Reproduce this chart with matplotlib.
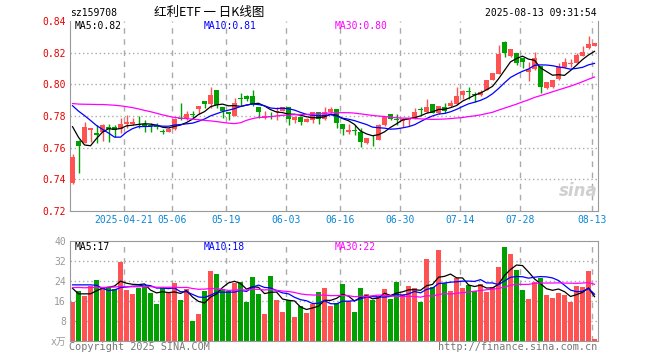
import pandas as pd
import matplotlib
matplotlib.use('Agg')
import matplotlib.pyplot as plt

# closes / volumes of the 29 sessions before the window (only feed the MA lines)
pre_close = [0.772, 0.776, 0.774, 0.771, 0.775, 0.778, 0.779,
             0.786, 0.792, 0.795, 0.799, 0.801, 0.798, 0.803, 0.800, 0.798, 0.801,
             0.790, 0.792, 0.791, 0.796, 0.801, 0.803, 0.800, 0.799,
             0.795, 0.797, 0.775, 0.745]
pre_vol = [18, 22, 19, 24, 21, 17, 20, 23, 25, 19, 22, 18, 20, 24, 21, 19, 23, 20, 18, 22,
           20, 18, 22, 26, 33, 31, 18, 22, 18.3]

open_ = [0.7375, 0.7642, 0.7632, 0.7712, 0.7695, 0.7697, 0.7729, 0.7733, 0.7718, 0.7750,
         0.7752, 0.7750, 0.7748, 0.7740, 0.7736, 0.7703, 0.7699, 0.7715, 0.7786, 0.7786,
         0.7812, 0.7845, 0.7895, 0.7876, 0.7965, 0.7855, 0.7824, 0.7800, 0.7914, 0.7927,
         0.7927, 0.7859, 0.7786, 0.7798, 0.7824, 0.7832, 0.7857, 0.7775, 0.7796, 0.7765,
         0.7775, 0.7824, 0.7780, 0.7828, 0.7843, 0.7748, 0.7701, 0.7708, 0.7701, 0.7628,
         0.7660, 0.7649, 0.7744, 0.7813, 0.7778, 0.7768, 0.7772, 0.7786, 0.7840, 0.7828,
         0.7876, 0.7817, 0.7855, 0.7864, 0.7876, 0.7933, 0.7958, 0.7935, 0.7933, 0.7965,
         0.8028, 0.8066, 0.8270, 0.8180, 0.8201, 0.8169, 0.8080, 0.8096, 0.8116, 0.7975,
         0.7982, 0.8032, 0.8108, 0.8131, 0.8133, 0.8180, 0.8228, 0.8243]
high = [0.7560, 0.7647, 0.7761, 0.7726, 0.7744, 0.7748, 0.7750, 0.7746, 0.7786, 0.7807,
        0.7786, 0.7797, 0.7775, 0.7755, 0.7755, 0.7716, 0.7727, 0.7786, 0.7880, 0.7832,
        0.7832, 0.7864, 0.7897, 0.7982, 0.7965, 0.7855, 0.7828, 0.7912, 0.7944, 0.7933,
        0.7965, 0.7859, 0.7832, 0.7828, 0.7855, 0.7857, 0.7857, 0.7803, 0.7803, 0.7786,
        0.7824, 0.7828, 0.7859, 0.7859, 0.7843, 0.7748, 0.7748, 0.7744, 0.7722, 0.7663,
        0.7680, 0.7752, 0.7796, 0.7813, 0.7811, 0.7786, 0.7790, 0.7849, 0.7859, 0.7906,
        0.7876, 0.7866, 0.7885, 0.7901, 0.7980, 0.7964, 0.7980, 0.7954, 0.7964, 0.8028,
        0.8070, 0.8249, 0.8272, 0.8224, 0.8201, 0.8169, 0.8144, 0.8207, 0.8116, 0.8017,
        0.8030, 0.8137, 0.8165, 0.8160, 0.8201, 0.8239, 0.8306, 0.8262]
low = [0.7370, 0.7438, 0.7628, 0.7638, 0.7628, 0.7644, 0.7638, 0.7670, 0.7690, 0.7727,
       0.7744, 0.7723, 0.7702, 0.7698, 0.7716, 0.7686, 0.7697, 0.7710, 0.7775, 0.7775,
       0.7790, 0.7811, 0.7849, 0.7849, 0.7849, 0.7790, 0.7775, 0.7800, 0.7870, 0.7895,
       0.7866, 0.7786, 0.7783, 0.7781, 0.7775, 0.7830, 0.7746, 0.7754, 0.7744, 0.7759,
       0.7754, 0.7748, 0.7775, 0.7821, 0.7722, 0.7680, 0.7686, 0.7680, 0.7607, 0.7625,
       0.7613, 0.7649, 0.7737, 0.7775, 0.7740, 0.7729, 0.7737, 0.7779, 0.7807, 0.7817,
       0.7817, 0.7813, 0.7821, 0.7859, 0.7870, 0.7906, 0.7906, 0.7891, 0.7927, 0.7963,
       0.8025, 0.8066, 0.8172, 0.8174, 0.8123, 0.8102, 0.8024, 0.8092, 0.7944, 0.7969,
       0.7977, 0.8030, 0.8102, 0.8112, 0.8133, 0.8178, 0.8222, 0.8241]
close = [0.7543, 0.7613, 0.7730, 0.7724, 0.7680, 0.7744, 0.7720, 0.7712, 0.7748, 0.7765,
         0.7765, 0.7744, 0.7733, 0.7737, 0.7733, 0.7699, 0.7720, 0.7783, 0.7780, 0.7811,
         0.7808, 0.7864, 0.7876, 0.7933, 0.7870, 0.7832, 0.7811, 0.7881, 0.7910, 0.7908,
         0.7874, 0.7828, 0.7797, 0.7795, 0.7832, 0.7855, 0.7778, 0.7796, 0.7765, 0.7782,
         0.7824, 0.7780, 0.7824, 0.7845, 0.7754, 0.7716, 0.7712, 0.7706, 0.7638, 0.7663,
         0.7658, 0.7744, 0.7796, 0.7780, 0.7776, 0.7778, 0.7786, 0.7828, 0.7836, 0.7859,
         0.7821, 0.7863, 0.7834, 0.7885, 0.7927, 0.7960, 0.7954, 0.7931, 0.7954, 0.8028,
         0.8070, 0.8190, 0.8200, 0.8222, 0.8133, 0.8144, 0.8096, 0.8165, 0.7982, 0.8017,
         0.8028, 0.8112, 0.8144, 0.8135, 0.8186, 0.8207, 0.8255, 0.8258]
volume = [15.7, 20.0, 18.0, 22.0, 24.4, 21.0, 21.7, 20.6, 31.7, 20.3,
          18.8, 21.1, 22.0, 19.3, 14.7, 21.1, 19.4, 23.3, 16.3, 20.6,
          8.0, 10.7, 20.1, 28.1, 26.9, 20.9, 20.0, 23.3, 23.6, 15.7,
          25.6, 18.9, 10.7, 26.1, 16.3, 11.6, 16.3, 9.4, 14.0, 11.3,
          14.7, 19.7, 21.3, 13.9, 15.3, 22.8, 16.1, 11.5, 21.2, 18.8,
          16.3, 18.0, 20.9, 16.7, 23.6, 18.8, 22.0, 21.2, 15.5, 32.8,
          21.4, 36.4, 23.0, 20.1, 25.2, 21.2, 22.4, 19.8, 22.8, 19.5,
          21.4, 29.6, 37.6, 34.8, 28.4, 20.3, 16.7, 23.7, 25.3, 18.3,
          17.1, 19.3, 18.3, 15.7, 22.0, 21.7, 28.1, 0.8]

holidays = ['2025-05-01', '2025-05-02', '2025-05-05', '2025-06-02']
tick_dates = ['2025-04-21', '2025-05-06', '2025-05-19', '2025-06-03', '2025-06-16',
              '2025-06-30', '2025-07-14', '2025-07-28', '2025-08-13']
price_ticks = [0.72, 0.74, 0.76, 0.78, 0.80, 0.82, 0.84]
vol_ticks = [0, 8, 16, 24, 32, 40]

RED = '#ff5252'
GREEN = '#00a000'
MA_COLORS = {5: 'black', 10: '#0000ff', 30: '#ff00ff'}
GRID = '#aaaaaa'
MONO = ['DejaVu Sans Mono', 'Noto Sans CJK SC']

dates = pd.bdate_range('2025-04-08', '2025-08-13')
dates = dates[~dates.isin(pd.to_datetime(holidays))]
x = list(range(len(dates)))
tick_pos = [dates.get_loc(pd.Timestamp(d)) - 0.4 for d in tick_dates]
tick_lab = [tick_dates[0]] + [d[5:] for d in tick_dates[1:]]

n_pre = len(pre_close)
ma_p = {n: pd.Series(pre_close + close).rolling(n).mean().values[n_pre:] for n in (5, 10, 30)}
ma_v = {n: pd.Series(pre_vol + volume).rolling(n).mean().values[n_pre:] for n in (5, 10, 30)}
colors = [RED if c >= o else GREEN for o, c in zip(open_, close)]

fig = plt.figure(figsize=(6.6, 3.6), dpi=100)
ax = fig.add_axes([70 / 660, 1 - 211 / 360, 527.7 / 660, 190 / 360])
axv = fig.add_axes([70 / 660, 1 - 340.7 / 360, 527.7 / 660, 99.7 / 360])

for a in (ax, axv):
    a.set_xlim(-0.42, 87.53)
    for s in a.spines.values():
        s.set_color('#999999')
    for p in tick_pos:
        a.axvline(p, color=GRID, lw=1, ls=(0, (4, 4)), zorder=0)
    a.tick_params(length=0, labelsize=7, pad=3)
    a.set_xticks(tick_pos)
ax.spines['top'].set_visible(False)

# price panel
ax.set_ylim(0.72, 0.84)
ax.set_yticks(price_ticks)
ax.set_yticklabels(['%.2f' % t for t in price_ticks], color='#e60000', family=MONO)
ax.set_xticklabels(tick_lab, color='#0a86d6', family=MONO)
for t in price_ticks[1:-1]:
    ax.axhline(t, color=GRID, lw=1, ls=(0, (1, 2)), zorder=0)

ax.vlines(x, low, high, colors=colors, lw=1, zorder=2)
body = [max(abs(c - o), 0.0006) for o, c in zip(open_, close)]
ax.bar(x, body, bottom=[min(o, c) for o, c in zip(open_, close)], width=0.83,
       color=colors, zorder=3)
for n in (5, 10, 30):
    ax.plot(x, ma_p[n], color=MA_COLORS[n], lw=0.9, zorder=4)

ax.text(1.0, 0.06, 'sina', transform=ax.transAxes, ha='right', va='bottom',
        fontsize=12, fontweight='bold', fontstyle='italic', color='#d0d0d0')

# volume panel
axv.set_ylim(0, 40)
axv.set_yticks(vol_ticks)
axv.set_yticklabels(['x万'] + [str(t) for t in vol_ticks[1:]], color='#999999', family=MONO)
axv.set_xticklabels([])
for t in vol_ticks[1:-1]:
    axv.axhline(t, color=GRID, lw=1, ls=(0, (1, 2)), zorder=0)
axv.bar(x, volume, width=0.83, color=colors, zorder=2)
for n in (5, 10, 30):
    axv.plot(x, ma_v[n], color=MA_COLORS[n], lw=0.9, zorder=3)

# header / labels
def ftext(px, py, s, **kw):
    kw.setdefault('family', MONO)
    kw.setdefault('fontsize', 7)
    fig.text(px / 660, 1 - py / 360, s, va='center', **kw)

ftext(70, 13, 'sz159708', ha='left')
ftext(209, 12, '红利ETF 一 日K线图', ha='center', fontsize=9,
      family=['Noto Sans CJK SC', 'DejaVu Sans'])
ftext(597, 13, '2025-08-13 09:31:54', ha='right')
ftext(75, 26, 'MA5:0.82', ha='left', color=MA_COLORS[5])
ftext(204, 26, 'MA10:0.81', ha='left', color=MA_COLORS[10])
ftext(335, 26, 'MA30:0.80', ha='left', color=MA_COLORS[30])
ftext(75, 246.5, 'MA5:17', ha='left', color=MA_COLORS[5])
ftext(204, 246.5, 'MA10:18', ha='left', color=MA_COLORS[10])
ftext(335, 246.5, 'MA30:22', ha='left', color=MA_COLORS[30])
ftext(69, 347, 'Copyright 2025 SINA.COM', ha='left', color='#777777', fontsize=7.3)
ftext(597, 347, 'http://finance.sina.com.cn', ha='right', color='#777777', fontsize=7.3)

fig.savefig('out.png', dpi=100)
